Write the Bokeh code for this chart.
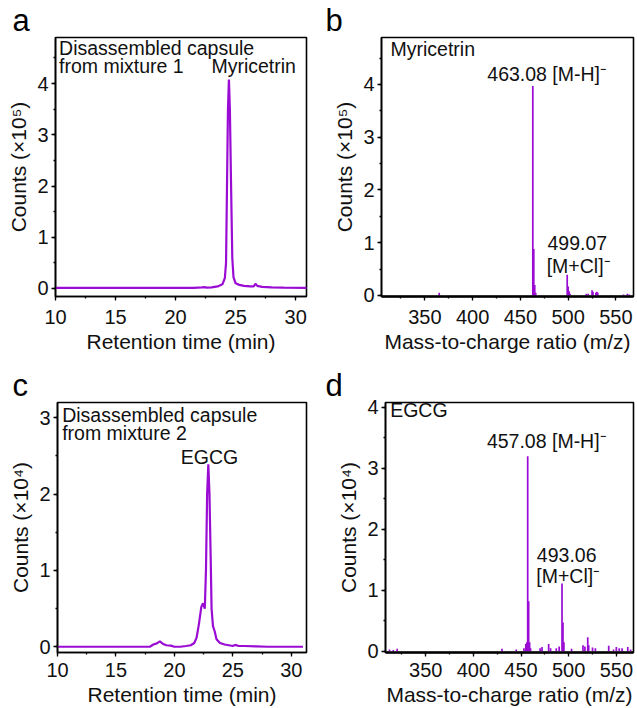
from bokeh.plotting import figure
from bokeh.layouts import column, row
from bokeh.models import Label, SingleIntervalTicker, Range1d
from bokeh.embed import file_html
from bokeh.resources import INLINE

FONT = "Liberation Sans"
PURPLE = "#9A0CD4"
INK = "#111111"

# ---------------- data ----------------
# (a) chromatogram, disassembled capsule from mixture 1 (counts x1e5)
a_time = [10.0, 12.0, 14.0, 16.0, 18.0, 20.0, 21.5, 22.2, 22.4, 22.6, 23.0, 23.5, 23.9,
          24.1, 24.2, 24.28, 24.36, 24.44, 24.52, 24.62, 24.72, 24.82, 25.0, 25.3, 25.7,
          26.2, 26.5, 26.65, 26.8, 27.2, 28.0, 29.0, 31.0]
a_counts = [0.01, 0.01, 0.01, 0.01, 0.01, 0.01, 0.01, 0.02, 0.025, 0.015, 0.02, 0.04, 0.08,
            0.2, 0.5, 2.0, 3.5, 4.08, 3.5, 2.0, 0.6, 0.22, 0.1, 0.07, 0.05,
            0.04, 0.04, 0.09, 0.05, 0.03, 0.02, 0.015, 0.01]

# (b) mass spectrum of myricetrin peak (counts x1e5)
b_mz = [365, 463, 464, 465, 466, 499, 500, 501, 502, 519, 521, 525, 526, 529, 530, 531,
        545, 558, 562, 564]
b_counts = [0.05, 3.97, 0.88, 0.2, 0.05, 0.39, 0.17, 0.08, 0.03, 0.03, 0.03, 0.1, 0.07,
            0.05, 0.07, 0.05, 0.01, 0.02, 0.03, 0.02]

# (c) chromatogram, disassembled capsule from mixture 2 (counts x1e4)
c_time = [10.0, 12.0, 14.0, 16.0, 17.9, 18.2, 18.5, 18.75, 19.0, 19.3, 19.7, 20.0, 20.5,
          21.0, 21.4, 21.7, 21.9, 22.1, 22.3, 22.45, 22.6, 22.7, 22.8, 22.9, 23.0, 23.1,
          23.18, 23.3, 23.45, 23.6, 23.9, 24.3, 25.0, 25.2, 25.5, 26.0, 27.0, 28.0, 31.0]
c_counts = [0.0, 0.0, 0.0, 0.0, 0.0, 0.03, 0.045, 0.07, 0.04, 0.02, 0.015, 0.0, 0.0,
            0.01, 0.02, 0.05, 0.12, 0.3, 0.52, 0.57, 0.5, 1.0, 2.0, 2.39, 2.0, 1.2,
            0.5, 0.27, 0.2, 0.1, 0.05, 0.03, 0.01, 0.025, 0.01, 0.01, 0.005, 0.0, 0.0]

# (d) mass spectrum of EGCG peak (counts x1e4)
d_mz = [312, 316, 320, 430, 445, 453, 455, 456, 457, 458, 459, 460, 470, 472, 479, 481,
        487, 490, 493, 494, 495, 503, 515, 517, 520, 521, 525, 528, 542, 547, 550, 553,
        556, 562, 565]
d_counts = [0.03, 0.02, 0.04, 0.04, 0.03, 0.05, 0.12, 0.15, 3.2, 0.82, 0.15, 0.05, 0.05,
            0.07, 0.12, 0.05, 0.05, 0.08, 1.11, 0.47, 0.15, 0.04, 0.1, 0.08, 0.23, 0.1,
            0.06, 0.05, 0.09, 0.03, 0.07, 0.05, 0.05, 0.07, 0.03]


def make_fig(width, height, borders, xr, yr, xint, yint, xlabel, ylabel,
             letter, letter_offset, letter_baseline, x_standoff):
    left, right, top, bottom = borders
    p = figure(width=width, height=height, output_backend="svg", toolbar_location=None,
               x_range=Range1d(*xr), y_range=Range1d(*yr),
               min_border_left=left, min_border_right=right,
               min_border_top=top, min_border_bottom=bottom)
    p.title.text = letter
    p.title.align = "left"
    p.title.offset = letter_offset
    p.title.text_font = FONT
    p.title.text_font_size = "31px"
    p.title.text_font_style = "normal"
    p.title.text_color = "black"
    p.title.text_baseline = letter_baseline
    p.title.standoff = 0
    p.xgrid.visible = False
    p.ygrid.visible = False
    p.outline_line_color = "black"
    p.outline_line_width = 1.6
    p.outline_line_alpha = 1.0
    p.background_fill_color = "white"
    p.border_fill_color = "white"
    p.xaxis.ticker = SingleIntervalTicker(interval=xint, num_minor_ticks=2)
    p.yaxis.ticker = SingleIntervalTicker(interval=yint, num_minor_ticks=2)
    p.xaxis.axis_label = xlabel
    p.yaxis.axis_label = ylabel
    for ax in (p.xaxis[0], p.yaxis[0]):
        ax.axis_line_color = "black"
        ax.axis_line_width = 1.6
        ax.major_tick_line_color = "black"
        ax.minor_tick_line_color = "black"
        ax.major_tick_line_width = 1.3
        ax.minor_tick_line_width = 1.3
        ax.major_tick_in = 0
        ax.major_tick_out = 4
        ax.minor_tick_in = 0
        ax.minor_tick_out = 2
        ax.major_label_text_font = FONT
        ax.major_label_text_font_size = "20px"
        ax.major_label_text_color = INK
        ax.axis_label_text_font = FONT
        ax.axis_label_text_font_size = "21px"
        ax.axis_label_text_font_style = "normal"
        ax.axis_label_text_color = INK
    p.xaxis.major_label_standoff = x_standoff
    p.xaxis.axis_label_standoff = 3
    p.yaxis.major_label_standoff = 3
    p.yaxis.axis_label_standoff = 4
    return p


def add_text(p, x, y, txt, align="left", size="19.5px"):
    p.add_layout(Label(x=x, y=y, text=txt, text_align=align, text_baseline="middle",
                       text_font=FONT, text_font_size=size, text_color=INK))


# ---------------- panel a ----------------
pa = make_fig(318, 358, (55, 12, 32, 58), (10, 30.9), (-0.157, 4.9), 5, 1,
              "Retention time (min)", "Counts (×10⁵)", "a", -43, "alphabetic", 9)
pa.line(a_time, a_counts, line_color=PURPLE, line_width=2.2)
add_text(pa, 10.3, 4.70, "Disassembled capsule")
add_text(pa, 10.3, 4.34, "from mixture 1")
add_text(pa, 26.5, 4.34, "Myricetrin", align="center")

# ---------------- panel b ----------------
pb = make_fig(319, 358, (63, 4, 32, 62), (304.6, 568.4), (-0.02, 4.89), 50, 1,
              "Mass-to-charge ratio (m/z)", "Counts (×10⁵)", "b", -56, "alphabetic", 9)
pb.vbar(x=b_mz, top=b_counts, bottom=0, width=1.8, fill_color=PURPLE, line_color=None)
pb.xaxis.axis_line_width = 2.4
add_text(pb, 314, 4.68, "Myricetrin")
add_text(pb, 478, 4.19, "463.08 [M-H]⁻", align="center")
add_text(pb, 478.4, 0.99, "499.07")
add_text(pb, 477.5, 0.55, "[M+Cl]⁻")

# ---------------- panel c ----------------
pc = make_fig(318, 350, (57, 12, 34, 55), (10, 31.3), (-0.075, 3.2), 5, 1,
              "Retention time (min)", "Counts (×10⁴)", "c", -45, "alphabetic", 6)
pc.line(c_time, c_counts, line_color=PURPLE, line_width=2.2)
add_text(pc, 10.4, 3.04, "Disassembled capsule")
add_text(pc, 10.4, 2.80, "from mixture 2")
add_text(pc, 23.0, 2.49, "EGCG", align="center")

# ---------------- panel d ----------------
pd = make_fig(319, 350, (67, 4, 44, 53), (307.8, 568), (-0.02, 4.08), 50, 1,
              "Mass-to-charge ratio (m/z)", "Counts (×10⁴)", "d", -60, "bottom", 6)
pd.vbar(x=d_mz, top=d_counts, bottom=0, width=1.8, fill_color=PURPLE, line_color=None)
pd.xaxis.axis_line_width = 2.4
add_text(pd, 312.7, 3.95, "EGCG")
add_text(pd, 477, 3.45, "457.08 [M-H]⁻", align="center")
add_text(pd, 466.6, 1.58, "493.06")
add_text(pd, 466.0, 1.24, "[M+Cl]⁻")

layout = column(row(pa, pb), row(pc, pd))
open("out.html", "w").write(file_html(layout, INLINE))
